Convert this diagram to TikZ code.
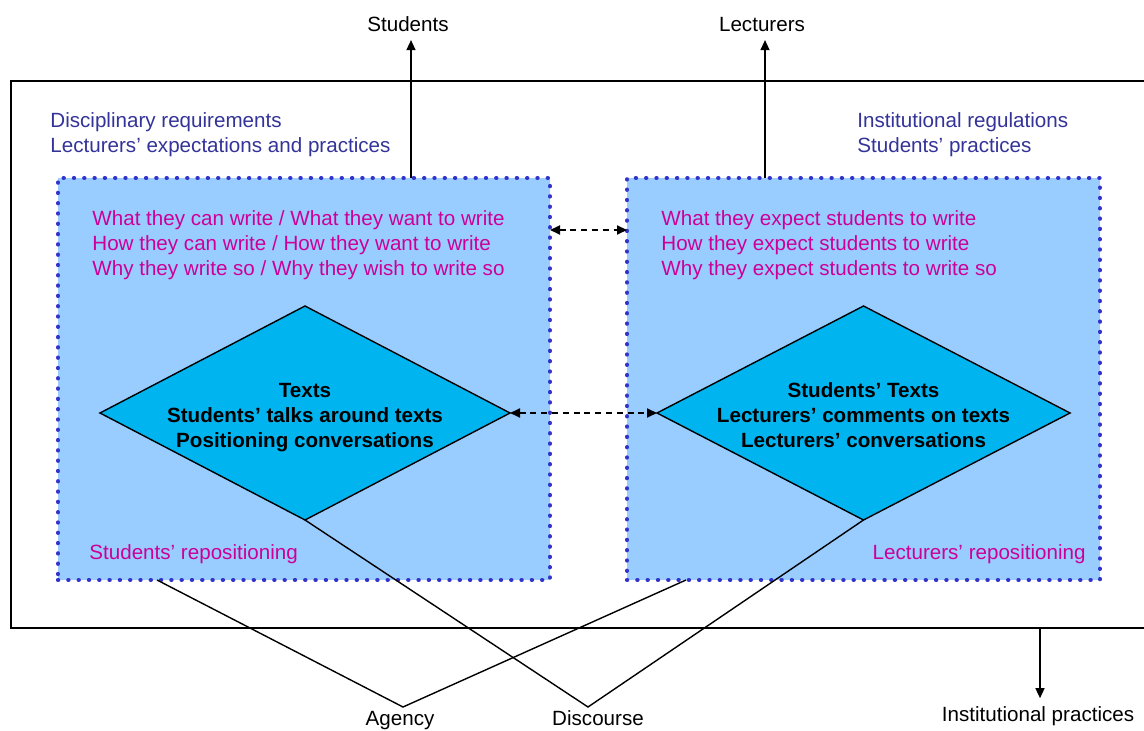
\documentclass[tikz,border=0pt]{standalone}
\usepackage{fontspec}
\setmainfont{Liberation Sans}
\usetikzlibrary{arrows.meta,positioning,shapes.geometric,calc}
\definecolor{panelfill}{HTML}{99CCFF}
\definecolor{dotblue}{HTML}{3333CC}
\definecolor{kitefill}{HTML}{00B4F0}
\definecolor{headblue}{HTML}{333399}
\definecolor{askpink}{HTML}{CC0099}
\newcommand\diagfont{\fontsize{10.3pt}{12.5pt}\selectfont}
\tikzset{
    panel/.style={rectangle, fill=panelfill, draw=dotblue, line width=2.1pt, dash pattern=on 0.1pt off 5.05pt, line cap=round, outer sep=0pt},
    kite/.style={diamond, fill=kitefill, draw=black, line width=0.7pt, inner sep=0pt, outer sep=0pt, minimum width=205pt, minimum height=107pt},
    heading/.style={text=headblue, align=left, inner sep=0pt, font=\diagfont},
    asks/.style={text=askpink, align=left, inner sep=0pt, font=\diagfont},
    core/.style={align=center, inner sep=0pt, font=\diagfont\bfseries},
    tag/.style={inner sep=4pt, font=\diagfont},
    flow/.style={-{Triangle[length=5pt, width=4.5pt]}, line width=0.7pt},
    link/.style={{Triangle[length=5pt, width=4.5pt]}-{Triangle[length=5pt, width=4.5pt]}, line width=0.9pt, dash pattern=on 3pt off 2.4pt},
    tie/.style={line width=0.7pt}
}

\begin{document}
\begin{tikzpicture}[x=0.5pt, y=-0.5pt]
\useasboundingbox (0,0) rectangle (1144,731);

% outer frame
\draw[line width=1pt] (11,81) rectangle (1146,628);
\coordinate (instTop) at (1040,628);

% two panels
\node[panel, minimum width=246pt, minimum height=201pt] (stud) at (304,379) {};
\node[panel, minimum width=236.5pt, minimum height=201pt] (lect) at (863.5,379) {};

% diamonds
\node[kite] (kiteS) at (305,413) {};
\node[kite, minimum width=206.5pt] (kiteL) at (863.5,413) {};

\node[core, anchor=base] at (305,447.5) {Texts\\Students’ talks around texts\\Positioning conversations};
\node[core, anchor=base] at (863.5,447.5) {Students’ Texts\\Lecturers’ comments on texts\\Lecturers’ conversations};

% texts inside the frame
\node[heading, anchor=base west] at (50,152.5) {Disciplinary requirements\\Lecturers’ expectations and practices};
\node[heading, anchor=base west] at (857,152.5) {Institutional regulations\\Students’ practices};
\node[asks, anchor=base west] at (92,275.5) {What they can write / What they want to write\\How they can write / How they want to write\\Why they write so / Why they wish to write so};
\node[asks, anchor=base west] at (661,275.5) {What they expect students to write\\How they expect students to write\\Why they expect students to write so};
\node[asks, anchor=base west] at (89,559) {Students’ repositioning};
\node[asks, anchor=base east] at (1086,559) {Lecturers’ repositioning};

% outside labels
\node[tag, anchor=base] (students) at (408,31.5) {Students};
\node[tag, anchor=base] (lecturers) at (762,31.5) {Lecturers};
\node[tag, anchor=base] (inst) at (1038,721.5) {Institutional practices};
\node[tag, anchor=base] (agency) at (400,725.5) {Agency};
\node[tag, anchor=base] (discourse) at (598,725.5) {Discourse};
\coordinate (agencyTip) at (403,707);
\coordinate (discTip) at (588,707);

% arrows
\coordinate (sTop) at ($(stud.north west)+(353,0)$);
\coordinate (lTop) at ($(lect.north west)+(138,0)$);
\draw[flow] (sTop) -- (sTop |- students.south);
\draw[flow] (lTop) -- (lTop |- lecturers.south);
\draw[flow] (instTop) -- (instTop |- inst.north);

\coordinate (upper) at (0,230);
\draw[link] (stud.east |- upper) -- (lect.west |- upper);
\draw[link] (kiteS.east) -- (kiteL.west);

% lines to agency and discourse
\draw[tie] ($(stud.south west)+(99,0)$) -- (agencyTip) -- ($(lect.south west)+(59,0)$);
\draw[tie] (kiteS.south) -- (discTip) -- (kiteL.south);
\end{tikzpicture}
\end{document}
